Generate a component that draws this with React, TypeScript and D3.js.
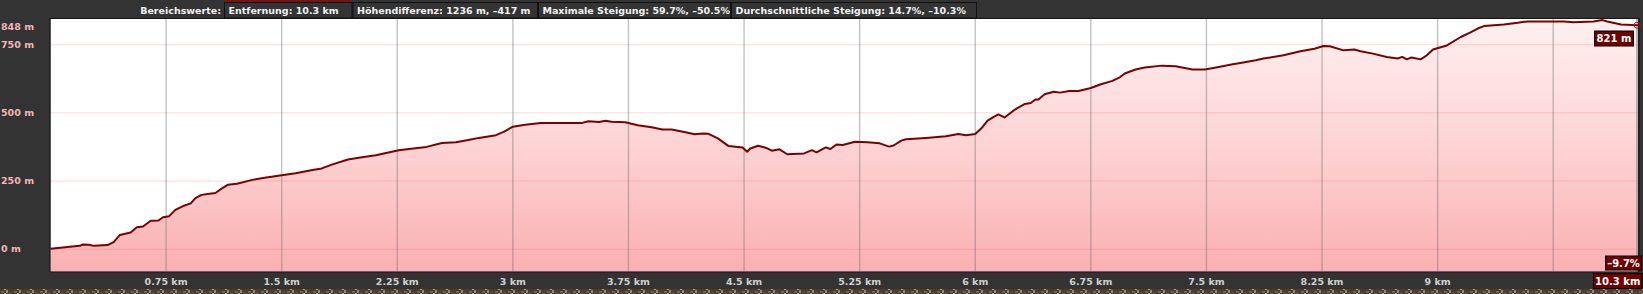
import React from 'react';
import * as d3 from 'd3';

// ---- data ----
const distanceKm = [
  0, 0.08, 0.14, 0.19, 0.21, 0.25, 0.28, 0.37, 0.41, 0.45, 0.52, 0.56, 0.6, 0.65, 0.7, 0.73, 0.77,
  0.81, 0.86, 0.91, 0.94, 0.98, 1.02, 1.07, 1.11, 1.15, 1.21, 1.31, 1.39, 1.5, 1.59, 1.7, 1.76,
  1.83, 1.93, 2.0, 2.11, 2.26, 2.34, 2.44, 2.54, 2.63, 2.71, 2.78, 2.89, 2.94, 3.0, 3.08, 3.18,
  3.45, 3.49, 3.56, 3.6, 3.64, 3.73, 3.81, 3.9, 3.97, 4.03, 4.12, 4.18, 4.23, 4.27, 4.33, 4.4,
  4.49, 4.52, 4.54, 4.59, 4.64, 4.68, 4.73, 4.78, 4.89, 4.94, 4.97, 5.03, 5.06, 5.1, 5.14, 5.22,
  5.3, 5.38, 5.44, 5.47, 5.52, 5.55, 5.68, 5.81, 5.89, 5.94, 6.0, 6.04, 6.08, 6.12, 6.15, 6.19,
  6.26, 6.32, 6.36, 6.39, 6.41, 6.45, 6.51, 6.55, 6.61, 6.67, 6.75, 6.81, 6.89, 6.94, 6.97, 7.04,
  7.1, 7.21, 7.3, 7.41, 7.49, 7.58, 7.67, 7.72, 7.82, 7.87, 8.0, 8.11, 8.2, 8.26, 8.3, 8.39, 8.46,
  8.5, 8.58, 8.67, 8.74, 8.77, 8.8, 8.83, 8.89, 8.93, 8.97, 9.06, 9.15, 9.21, 9.26, 9.3, 9.43,
  9.52, 9.58, 9.82, 9.88, 10.01, 10.07, 10.1, 10.19, 10.3,
];
const elevationM = [
  1, 6, 10, 12, 17, 16, 12, 15, 26, 52, 61, 80, 83, 104, 105, 117, 121,
  144, 158, 168, 187, 199, 202, 206, 222, 236, 240, 254, 262, 271, 278, 290, 296,
  311, 329, 335, 344, 363, 368, 375, 389, 392, 400, 408, 418, 430, 449, 456, 463,
  463, 469, 466, 471, 467, 465, 454, 447, 439, 439, 429, 421, 424, 423, 406, 378,
  373, 357, 369, 379, 372, 361, 366, 348, 351, 363, 355, 373, 367, 384, 382, 394,
  392, 388, 376, 380, 398, 403, 408, 414, 422, 418, 422, 443, 471, 485, 494, 483,
  513, 532, 536, 549, 549, 568, 577, 574, 580, 580, 591, 604, 617, 631, 644, 659,
  666, 673, 671, 659, 659, 668, 678, 683, 693, 699, 711, 726, 735, 745, 744, 729, 732,
  726, 717, 705, 699, 705, 696, 703, 696, 711, 732, 747, 778, 794, 809, 818, 824,
  830, 835, 835, 832, 835, 840, 835, 824, 821,
];
const yTickValues = [0, 250, 500, 750];
const yTickLabels = ['0 m', '250 m', '500 m', '750 m'];
const yMaxLabel = '848 m';
const xGridKm = [0.75, 1.5, 2.25, 3, 3.75, 4.5, 5.25, 6, 6.75, 7.5, 8.25, 9, 9.75];
const xTickKm = [0.75, 1.5, 2.25, 3, 3.75, 4.5, 5.25, 6, 6.75, 7.5, 8.25, 9];
const xTickLabels = ['0.75 km', '1.5 km', '2.25 km', '3 km', '3.75 km', '4.5 km', '5.25 km', '6 km', '6.75 km', '7.5 km', '8.25 km', '9 km'];
const statsTitle = 'Bereichswerte:';
const statsTexts = [
  'Entfernung: 10.3 km',
  'Höhendifferenz: 1236 m, –417 m',
  'Maximale Steigung: 59.7%, –50.5%',
  'Durchschnittliche Steigung: 14.7%, –10.3%',
];
const endElevationLabel = '821 m';
const endGradeLabel = '–9.7%';
const endDistanceLabel = '10.3 km';

// ---- layout ----
const W = 1643;
const H = 294;
const PL = 50.5;
const PR = 1638;
const PT = 19;
const PB = 271.5;
const BOX_EDGES = [224, 352.5, 538, 731, 977];
const FONT = '"DejaVu Sans", Verdana, sans-serif';

export default function App() {
  const x = d3.scaleLinear().domain([0, 10.3]).range([PL, PR]);
  const y = d3.scaleLinear().domain([-82, 844]).range([PB, PT]);
  const pts = distanceKm.map((d, i) => [d, elevationM[i]] as [number, number]);
  const area = d3.area<[number, number]>().x(d => x(d[0])).y0(PB).y1(d => y(d[1]));
  const line = d3.line<[number, number]>().x(d => x(d[0])).y(d => y(d[1]));
  const last = pts[pts.length - 1];

  return (
    <svg width={W} height={H} style={{ position: 'fixed', left: 0, top: 0, display: 'block' }} fontFamily={FONT}>
      <defs>
        <linearGradient id="fillGrad" gradientUnits="userSpaceOnUse" x1={0} y1={PT} x2={0} y2={PB}>
          <stop offset="0" stopColor="#fff0f0" />
          <stop offset="0.5" stopColor="#fdd3d4" />
          <stop offset="1" stopColor="#fab0b2" />
        </linearGradient>
        <pattern id="mapTex" width="13" height="5" patternUnits="userSpaceOnUse">
          <rect width="13" height="5" fill="#4a3c2e" />
          <rect x="1" y="1" width="3" height="2" fill="#7a6248" />
          <rect x="6" y="0" width="2" height="3" fill="#9a8a78" />
          <rect x="9" y="2" width="3" height="2" fill="#5e4a36" />
          <rect x="4" y="3" width="2" height="2" fill="#b0a494" />
        </pattern>
      </defs>
      <rect x={0} y={0} width={W} height={H} fill="#333333" />
      <rect x={0} y={289} width={W} height={5} fill="url(#mapTex)" />
      <rect x={225} y={0} width={127} height={1.5} fill="#8a0c0c" />

      {/* header stats */}
      <text x={BOX_EDGES[0] - 3} y={13.5} fill="#f2f2f2" fontSize={9.5} fontWeight="bold" textAnchor="end">{statsTitle}</text>
      {statsTexts.map((t, i) => (
        <g key={t}>
          <rect x={BOX_EDGES[i] + 0.5} y={2.5} width={BOX_EDGES[i + 1] - BOX_EDGES[i] - 1} height={15.5} fill="#343434" stroke="#111" strokeWidth={1} />
          <text x={BOX_EDGES[i] + 4.5} y={13.5} fill="#f2f2f2" fontSize={9.5} fontWeight="bold">{t}</text>
        </g>
      ))}

      {/* plot */}
      <rect x={PL} y={PT} width={PR - PL} height={PB - PT} fill="#ffffff" />
      <path d={area(pts) || ''} fill="url(#fillGrad)" />
      {yTickValues.map(v => (
        <line key={v} x1={PL} x2={PR} y1={y(v)} y2={y(v)} stroke="rgb(240,80,80)" strokeOpacity={0.15} strokeWidth={1.5} />
      ))}
      {xGridKm.map(k => (
        <line key={k} x1={x(k)} x2={x(k)} y1={PT} y2={PB} stroke="rgb(110,110,110)" strokeOpacity={0.42} strokeWidth={1.4} />
      ))}
      <line x1={x(10.3) - 1} x2={x(10.3) - 1} y1={PT} y2={PB} stroke="#8c8c8c" strokeWidth={1.2} />
      <path d={line(pts) || ''} fill="none" stroke="#7c0000" strokeWidth={2} strokeLinejoin="round" />
      <circle cx={x(last[0]) - 1} cy={y(last[1])} r={3} fill="none" stroke="#d21a1a" strokeWidth={1} />
      <rect x={PL - 0.5} y={PT - 0.5} width={PR - PL + 1.5} height={PB - PT + 1} fill="none" stroke="#141414" strokeWidth={1} />

      {/* y labels */}
      <text x={1} y={26.7} dy="0.35em" fill="#f5b5b5" fontSize={9.5} fontWeight="bold">{yMaxLabel}</text>
      {yTickValues.map((v, i) => (
        <text key={v} x={1} y={y(v)} dy="0.35em" fill="#f5b5b5" fontSize={9.5} fontWeight="bold">{yTickLabels[i]}</text>
      ))}

      {/* x labels */}
      {xTickKm.map((k, i) => (
        <text key={k} x={x(k)} y={281.5} dy="0.35em" fill="#cfcfcf" fontSize={9.5} fontWeight="bold" textAnchor="middle">{xTickLabels[i]}</text>
      ))}

      {/* end labels */}
      <rect x={1594.5} y={31} width={39} height={15} fill="#6e0000" stroke="#000" strokeWidth={1} />
      <text x={1614} y={38.5} dy="0.35em" fill="#ffffff" fontSize={10} fontWeight="bold" textAnchor="middle">{endElevationLabel}</text>
      <rect x={1605.5} y={256} width={36} height={14} fill="#6e0000" stroke="#000" strokeWidth={1} />
      <text x={1623.5} y={263} dy="0.35em" fill="#ffffff" fontSize={10} fontWeight="bold" textAnchor="middle">{endGradeLabel}</text>
      <rect x={1593.5} y={273.5} width={48.5} height={15} fill="#6e0000" stroke="#000" strokeWidth={1} />
      <text x={1617.7} y={281} dy="0.35em" fill="#ffffff" fontSize={10} fontWeight="bold" textAnchor="middle">{endDistanceLabel}</text>
    </svg>
  );
}
